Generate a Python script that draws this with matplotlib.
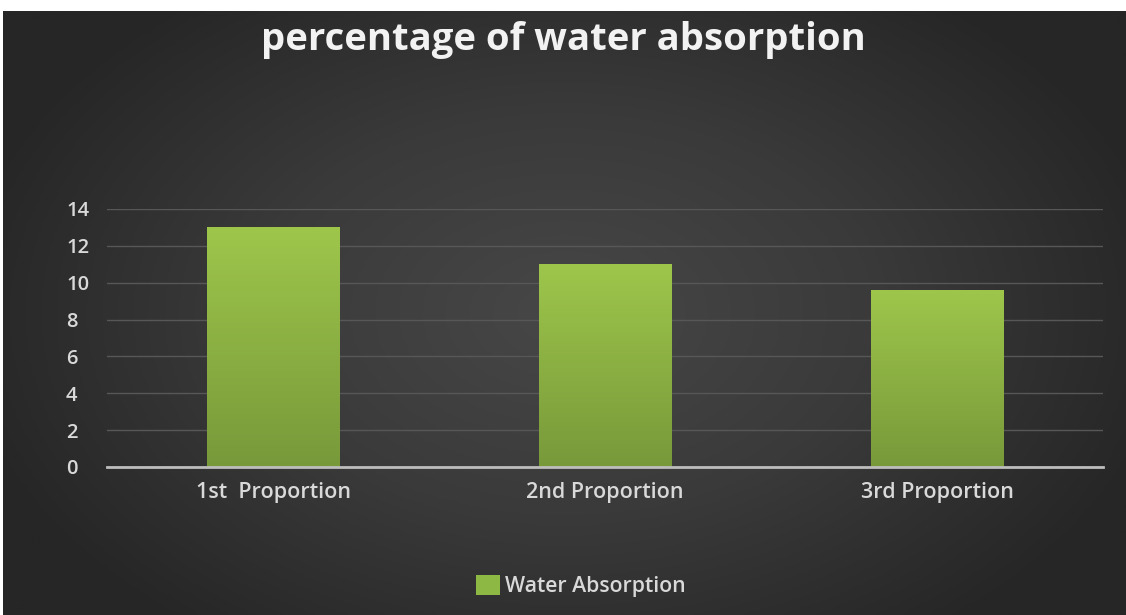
import numpy as np
import matplotlib
matplotlib.use("Agg")
import matplotlib.pyplot as plt
from matplotlib.colors import LinearSegmentedColormap

categories = ["1st  Proportion", "2nd Proportion", "3rd Proportion"]
values = [13.0, 11.0, 9.6]
yticks = [0, 2, 4, 6, 8, 10, 12, 14]
title = "percentage of water absorption"
legend_label = "Water Absorption"

W, H = 1126, 615
fig = plt.figure(figsize=(W / 100, H / 100), dpi=100)
fig.patch.set_facecolor("white")

# background with radial gradient
bg = fig.add_axes([0.003, 0, 0.997, 1 - 11 / H])
bg.set_axis_off()
yy, xx = np.mgrid[0:300, 0:600]
cx, cy = 300, 150
r = np.sqrt(((xx - cx) / 330.0) ** 2 + ((yy - cy) / 200.0) ** 2)
r = np.clip(r, 0, 1)
bgcmap = LinearSegmentedColormap.from_list("bg", ["#474747", "#3a3a3a", "#262626"])
bg.imshow(r, cmap=bgcmap, aspect="auto", extent=[0, 1, 0, 1], vmin=0, vmax=1)
bg.set_xlim(0, 1)
bg.set_ylim(0, 1)

ax = fig.add_axes([107 / W, (H - 467) / H, (1103 - 107) / W, (467 - 209) / H])
ax.patch.set_alpha(0)
x = np.arange(len(categories))
bars = ax.bar(x, values, width=0.4, color="#8db843", zorder=2)

grad = np.linspace(0, 1, 256).reshape(-1, 1)
barcmap = LinearSegmentedColormap.from_list("bar", ["#78993a", "#9ec64b"])
for b in bars:
    bx, by = b.get_x(), b.get_y()
    bw, bh = b.get_width(), b.get_height()
    im = ax.imshow(grad, cmap=barcmap, origin="lower", aspect="auto",
                   extent=[bx, bx + bw, by, by + bh], zorder=3)
    im.set_clip_path(b)

ax.set_xlim(-0.5, len(categories) - 0.5)
ax.set_ylim(0, 14)
ax.set_yticks(yticks)
ax.set_xticks(x)
ax.set_xticklabels(categories)
ax.yaxis.grid(True, color="#575757", linewidth=1, zorder=0)
ax.set_axisbelow(True)
for s in ["top", "right", "left"]:
    ax.spines[s].set_visible(False)
ax.spines["bottom"].set_color("#bdbdbd")
ax.spines["bottom"].set_linewidth(2)
ax.spines["bottom"].set_zorder(4)
ax.tick_params(axis="y", length=0, colors="#d9d9d9", labelsize=14.5, pad=29.5)
ax.tick_params(axis="x", length=0, colors="#d9d9d9", labelsize=15.5, pad=11)
for lab in ax.get_yticklabels() + ax.get_xticklabels():
    lab.set_fontfamily("Open Sans")
    lab.set_fontweight(600)
    lab.set_color("#d9d9d9")
for lab in ax.get_yticklabels():
    lab.set_horizontalalignment("left")

fig.text(0.5, 1 - 40 / H, title, ha="center", va="center", fontsize=27.5,
         fontweight="bold", color="#f2f2f2", family="Open Sans")

leg = ax.legend([bars[0]], [legend_label], loc="center",
                bbox_to_anchor=((581 - 107) / (1103 - 107), (467 - 586) / (467 - 209)),
                frameon=False, handlelength=1.1, handleheight=1.1,
                handletextpad=0.25, prop={"family": "Open Sans", "size": 15.3, "weight": 600})
for t in leg.get_texts():
    t.set_color("#d9d9d9")

fig.savefig("out.png", dpi=100, facecolor=fig.get_facecolor())
